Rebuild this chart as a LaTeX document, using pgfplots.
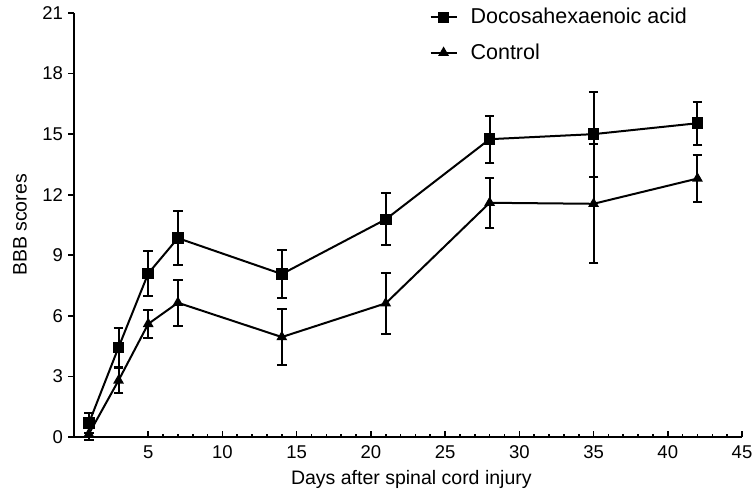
\documentclass[border=0pt]{standalone}
\usepackage{fontspec}
\setmainfont{Liberation Sans}
\usepackage{pgfplots}
\pgfplotsset{compat=1.18}
\begin{document}
\fontsize{19pt}{23pt}\selectfont
\begin{tikzpicture}[font=\fontsize{19pt}{23pt}\selectfont]
\begin{axis}[name=ax, scale only axis, width=668pt, height=424pt,
  xmin=0, xmax=45, ymin=0, ymax=21,
  axis x line*=bottom, axis y line*=left,
  axis line style={line width=2pt, -},
  xtick={5,10,...,45}, ytick={0,3,...,21}, minor x tick num=4,
  xtick align=inside, ytick align=outside,
  major tick length=5.5pt, minor tick length=3pt,
  every tick/.style={line width=1.6pt, black},
  tick label style={font=\fontsize{18.5pt}{21pt}\selectfont},
  yticklabel style={xshift=1pt},
  xticklabel style={yshift=-2pt},
  label style={font=\fontsize{19.5pt}{23pt}\selectfont},
  /pgf/number format/assume math mode=true,
  xlabel={Days after spinal cord injury},
  ylabel={BBB scores},
  xlabel style={at={(axis description cs:0.505,-0.1)}, anchor=center},
  ylabel style={at={(axis description cs:-0.081,0.5)}, anchor=center},
  clip=false,
  legend style={draw=none, fill=none, at={(0.532,1.012)}, anchor=north west,
    font=\fontsize{21.5pt}{25pt}\selectfont, row sep=17pt, inner sep=0pt,
    nodes={inner sep=0pt}},
  legend cell align=left,
  legend image code/.code={\draw[mark repeat=2, mark phase=2] plot coordinates {(0pt,0pt) (13pt,0pt) (26pt,0pt)}; \path (39pt,0pt);},
]
\addplot[black, line width=2pt, mark=square*, mark size=4.8pt, mark options={solid},
  error bars/.cd, y dir=both, y explicit,
  error bar style={line width=2pt}, error mark options={line width=2pt, mark size=4.8pt, rotate=90}]
  coordinates {
  (1,0.68) +- (0,0.5)
  (3,4.44) +- (0,0.95)
  (5,8.1) +- (0,1.12)
  (7,9.85) +- (0,1.35)
  (14,8.07) +- (0,1.18)
  (21,10.78) +- (0,1.28)
  (28,14.75) +- (0,1.17)
  (35,15.0) +- (0,2.1)
  (42,15.54) +- (0,1.07)
  };
\addlegendentry{Docosahexaenoic acid}
\addplot[black, line width=2pt, mark=triangle*, mark size=4.3pt, mark options={solid},
  error bars/.cd, y dir=both, y explicit,
  error bar style={line width=2pt}, error mark options={line width=2pt, mark size=4.8pt, rotate=90}]
  coordinates {
  (1,0.15) +- (0,0.3)
  (3,2.8) +- (0,0.6)
  (5,5.6) +- (0,0.68)
  (7,6.65) +- (0,1.15)
  (14,4.95) +- (0,1.37)
  (21,6.62) +- (0,1.52)
  (28,11.6) +- (0,1.25)
  (35,11.55) +- (0,2.95)
  (42,12.8) +- (0,1.15)
  };
\addlegendentry{Control}
\end{axis}
\pgfresetboundingbox
\path ([shift={(-74pt,-57pt)}]ax.south west) rectangle ([shift={(12pt,13pt)}]ax.north east);
\end{tikzpicture}
\end{document}
